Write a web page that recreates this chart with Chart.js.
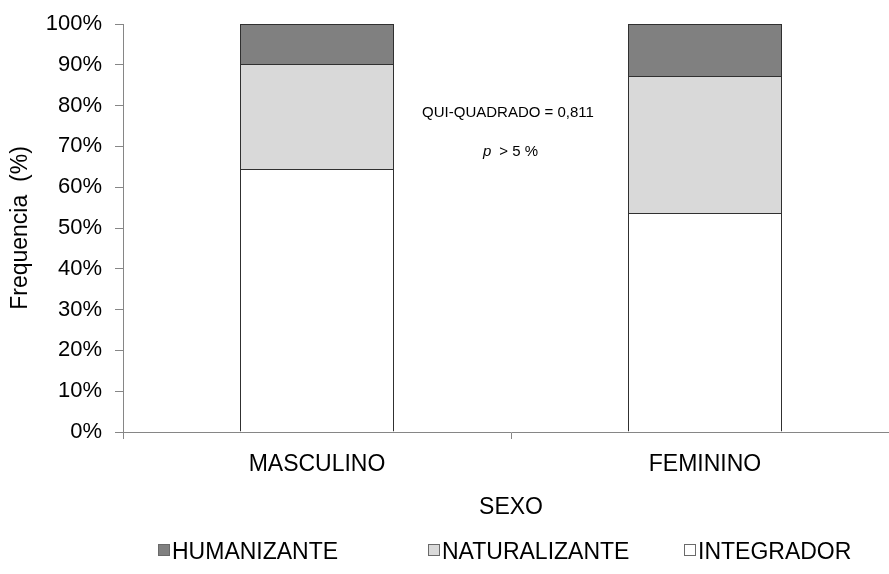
<!doctype html>
<html lang="pt">

<head>
    <meta charset="utf-8">
    <title>Frequencia por sexo</title>
    <script src="https://cdn.jsdelivr.net/npm/chart.js"></script>
    <style>
        html, body { margin: 0; padding: 0; background: #fff; overflow: hidden; }
        #wrap { width: 900px; height: 574px; position: relative; }
    </style>
</head>

<body>
    <div id="wrap">
        <canvas id="grafico" width="900" height="574"></canvas>
    </div>

    <script>
        // dados (%)
        const categorias = ["MASCULINO", "FEMININO"];
        const integrador = [64.46, 53.68];
        const naturalizante = [25.74, 33.57];
        const humanizante = [9.8, 12.75];
        const ticksY = [0, 10, 20, 30, 40, 50, 60, 70, 80, 90, 100];

        const fonte = "'Liberation Sans', Arial, sans-serif";
        const cinzaEixo = "#868686";
        const borda = "#303030";

        // legenda desenhada a mao (ordem invertida, como no original)
        const legendaManual = {
            id: 'legendaManual',
            afterDraw(chart) {
                const ctx = chart.ctx;
                const posX = [158, 428, 684];
                const sets = chart.data.datasets.slice().reverse();
                ctx.save();
                ctx.font = "23px " + fonte;
                ctx.textBaseline = "alphabetic";
                ctx.textAlign = "left";
                for (let i = 0; i < sets.length; i++) {
                    const x = posX[i];
                    ctx.fillStyle = sets[i].backgroundColor;
                    ctx.fillRect(x, 544, 12, 12);
                    ctx.strokeStyle = "#6a6a6a";
                    ctx.lineWidth = 1;
                    ctx.strokeRect(x + 0.5, 544.5, 11, 11);
                    ctx.fillStyle = "#000";
                    ctx.fillText(sets[i].label, x + 14, 559);
                }
                ctx.restore();
            }
        };

        // texto do teste qui-quadrado entre as barras
        const anotacao = {
            id: 'anotacao',
            afterDraw(chart) {
                const ctx = chart.ctx;
                const xs = chart.scales.x;
                const ys = chart.scales.y;
                const cx = (xs.getPixelForValue(0) + xs.getPixelForValue(1)) / 2 - 3;
                ctx.save();
                ctx.fillStyle = "#000";
                ctx.textBaseline = "middle";
                ctx.textAlign = "center";
                ctx.font = "15px " + fonte;
                ctx.fillText("QUI-QUADRADO = 0,811", cx, ys.getPixelForValue(78.2));
                const yp = ys.getPixelForValue(68.6);
                ctx.textAlign = "left";
                ctx.font = "italic 15px " + fonte;
                ctx.fillText("p", 483, yp);
                ctx.font = "15px " + fonte;
                ctx.fillText("  > 5 %", 491, yp);
                ctx.restore();
            }
        };

        const ctx = document.getElementById('grafico');

        new Chart(ctx, {
            type: 'bar',
            data: {
                labels: categorias,
                datasets: [
                    {
                        label: 'INTEGRADOR',
                        data: integrador,
                        backgroundColor: '#ffffff',
                        borderColor: borda,
                        borderWidth: 1
                    },
                    {
                        label: 'NATURALIZANTE',
                        data: naturalizante,
                        backgroundColor: '#d9d9d9',
                        borderColor: borda,
                        borderWidth: 1
                    },
                    {
                        label: 'HUMANIZANTE',
                        data: humanizante,
                        backgroundColor: '#808080',
                        borderColor: borda,
                        borderWidth: 1
                    }
                ]
            },
            options: {
                responsive: false,
                animation: false,
                devicePixelRatio: 1,
                datasets: {
                    bar: {
                        categoryPercentage: 1,
                        barPercentage: 0.39691
                    }
                },
                layout: {
                    padding: { top: 24, right: 1, bottom: 50, left: 0 }
                },
                plugins: {
                    legend: { display: false },
                    tooltip: { enabled: false }
                },
                scales: {
                    x: {
                        stacked: true,
                        afterFit: s => { s.height = 92; },
                        grid: {
                            offset: true,
                            drawOnChartArea: false,
                            color: cinzaEixo,
                            tickLength: 7,
                            tickColor: cinzaEixo
                        },
                        border: { display: true, color: cinzaEixo, width: 1 },
                        ticks: {
                            color: '#000',
                            padding: 12,
                            font: { family: fonte, size: 23 }
                        },
                        title: {
                            display: true,
                            text: 'SEXO',
                            color: '#000',
                            padding: { top: 0, bottom: 3 },
                            font: { family: fonte, size: 23 }
                        }
                    },
                    y: {
                        stacked: true,
                        min: 0,
                        max: 100,
                        afterFit: s => { s.width = 123; s.paddingTop = 0; s.paddingBottom = 0; },
                        afterBuildTicks: s => { s.ticks = ticksY.map(v => ({ value: v })); },
                        grid: {
                            drawOnChartArea: false,
                            color: cinzaEixo,
                            tickLength: 8,
                            tickColor: cinzaEixo
                        },
                        border: { display: true, color: cinzaEixo, width: 1 },
                        ticks: {
                            color: '#000',
                            padding: 13,
                            font: { family: fonte, size: 22 },
                            callback: v => v + '%'
                        },
                        title: {
                            display: true,
                            text: 'Frequencia  (%)',
                            color: '#000',
                            padding: { top: 7, bottom: 0 },
                            font: { family: fonte, size: 23 }
                        }
                    }
                }
            },
            plugins: [legendaManual, anotacao]
        });
    </script>
</body>

</html>
